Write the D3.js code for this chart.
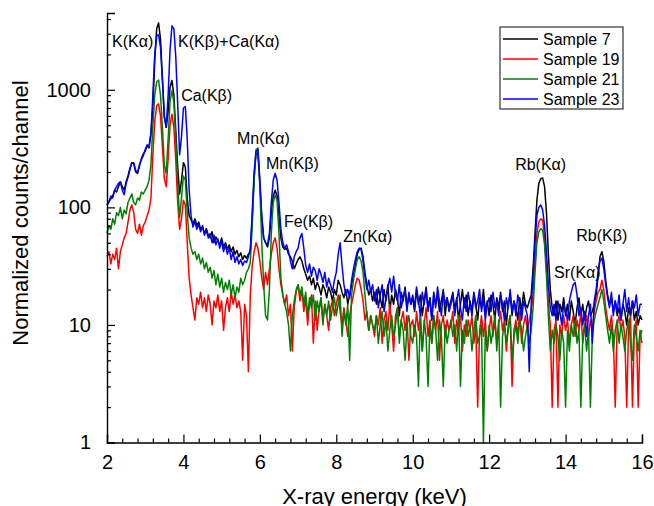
<!DOCTYPE html>
<html>
<head>
<meta charset="utf-8">
<script src="https://cdn.jsdelivr.net/npm/d3@7"></script>
<style>
  body { margin: 0; background: #fff; }
  svg { display: block; }
  text { font-family: "Liberation Sans", Arial, sans-serif; fill: #000; }
</style>
</head>
<body>
<svg width="654" height="506"></svg>
<script>
// channel grid: 2.00 .. 16.00 keV, 0.05 keV per channel
var energy = d3.range(281).map(function(i) { return +(2 + i * 0.05).toFixed(2); });

// Normalized counts per channel, one row per keV (2.00 .. 2.95, 3.00 .. 3.95, ...)
var sample7 = [
  105,112,118,125,140,135,150,165,150,140,165,185,215,240,235,200,195,225,260,285,
  300,335,320,420,700,1800,3300,3700,2700,1250,600,480,650,1050,1200,900,450,220,130,170,
  240,220,120,85,78,72,80,70,75,65,68,60,66,58,55,62,50,56,52,48,
  55,46,50,44,48,42,46,40,43,38,41,36,39,37,40,42,80,180,290,285,
  160,80,55,50,46,55,90,125,140,125,85,55,46,44,45,40,38,35,30,33,
  36,38,35,30,27,24,26,22,25,20,23,21,18,22,20,17,21,19,16,20,
  18,24,22,19,17,20,15,18,22,26,32,40,44,45,38,28,22,18,20,16,
  19,15,21,17,14,20,16,22,13,18,15,20,17,12,19,16,21,14,18,15,
  17,13,20,15,18,12,16,21,14,17,11,19,15,18,13,16,20,12,17,14,
  16,19,13,17,11,15,20,14,18,12,16,13,19,15,11,17,14,20,13,16,
  12,18,15,11,17,14,19,13,16,10,15,18,12,16,14,11,17,13,19,15,
  14,16,18,30,60,115,160,175,178,150,90,40,20,14,12,16,11,15,13,17,
  12,15,11,16,13,10,14,17,12,15,11,14,16,12,13,15,18,26,38,42,
  35,24,18,15,17,13,16,12,14,11,15,13,10,14,12,16,11,13,10,12,
  11
];
var sample19 = [
  38,42,33,40,36,45,30,42,48,55,60,75,95,105,90,65,60,72,58,70,
  75,85,95,120,280,540,730,760,600,330,175,150,260,500,620,480,250,110,65,80,
  115,105,50,25,18,14,11,17,15,19,14,17,13,18,15,10,16,14,18,13,
  16,9,14,17,13,19,15,18,14,16,13,5,15,12,4,18,32,42,50,45,
  35,25,20,28,22,30,40,50,55,45,30,22,18,15,18,12,15,6,14,19,
  22,16,20,13,17,10,15,18,7,16,9,14,17,11,15,12,9,14,16,12,
  15,18,13,10,14,11,8,12,15,18,22,25,24,20,16,11,13,9,12,10,
  8,12,10,14,7,11,13,9,15,10,6,12,14,8,11,13,9,12,5,10,
  11,8,13,9,12,6,10,14,8,11,7,12,9,13,5,10,12,8,11,9,
  10,13,7,11,9,12,6,10,8,11,9,12,7,10,2,9,12,8,11,6,
  9,12,8,11,7,10,13,9,11,6,10,12,3,9,11,8,13,7,10,12,
  9,11,13,18,35,60,75,80,78,55,30,15,10,2,9,11,2,10,8,12,
  9,11,7,10,12,8,11,9,13,7,10,12,8,11,9,13,16,19,20,24,
  20,14,11,9,12,8,2,10,12,9,11,8,2,10,12,2,9,11,2,8,
  9
];
var sample21 = [
  60,70,65,80,72,90,85,100,80,95,88,110,120,130,110,105,120,115,135,130,
  140,150,170,230,500,900,1170,1210,900,480,230,195,380,800,980,780,380,160,82,120,
  185,170,90,55,45,40,42,36,40,33,37,30,34,28,31,25,29,22,27,21,
  25,19,23,20,24,18,22,17,21,19,25,22,24,28,30,34,70,170,310,320,
  150,50,22,12,11,20,60,110,127,115,60,25,18,15,13,10,6,12,16,20,
  22,18,21,15,19,12,17,14,18,11,16,13,17,10,15,12,16,11,14,17,
  12,15,18,8,13,10,15,5,18,24,30,36,38,35,28,18,12,9,12,10,
  9,12,7,10,13,8,11,6,9,12,8,10,14,7,11,9,5,10,12,8,
  7,10,8,3,12,6,11,8,3,10,7,12,9,5,11,8,3,10,7,9,
  11,8,10,6,12,3,9,7,11,8,10,6,9,12,7,8,10,1,9,6,
  10,7,9,12,6,11,2,8,10,7,9,12,5,8,10,7,11,9,6,8,
  10,7,9,14,28,50,62,66,64,48,26,12,6,9,7,10,8,5,9,7,
  2,9,6,10,8,11,7,9,2,8,10,6,9,2,8,11,13,15,17,20,
  16,12,9,7,10,6,9,11,7,10,8,6,9,11,7,5,10,8,6,9,
  7
];
var sample23 = [
  105,110,125,120,140,150,160,165,140,128,160,180,210,240,240,205,200,230,255,275,
  310,340,330,430,900,2000,2850,2950,2300,1200,580,480,900,2200,3500,3300,1900,750,280,400,
  700,720,380,140,85,68,76,65,72,62,70,58,64,55,60,50,58,48,54,45,
  52,42,48,40,45,36,42,34,38,33,36,32,35,34,38,44,90,200,300,310,
  170,85,55,50,48,60,110,170,195,170,110,65,50,45,48,42,35,30,38,42,
  45,55,60,45,32,28,33,26,31,29,24,30,27,23,28,21,25,22,19,24,
  28,40,50,32,22,18,20,17,24,30,36,42,45,44,35,26,20,24,19,22,
  16,20,14,18,22,13,17,21,25,19,26,18,16,22,14,17,20,13,19,15,
  18,14,21,16,12,19,15,20,13,17,11,18,14,21,16,12,19,15,17,13,
  15,18,12,16,20,14,11,17,13,19,15,12,18,14,16,20,13,17,11,15,
  17,13,19,14,16,12,18,15,11,17,14,20,13,16,12,18,15,11,16,14,
  12,4,15,26,50,85,100,105,95,70,42,22,14,12,15,11,16,13,10,15,
  13,11,16,19,22,23,18,12,14,10,13,8,12,15,7,16,20,28,35,37,
  30,22,17,14,19,12,16,13,18,11,15,20,13,17,12,16,14,18,12,15,
  15
];

var seriesNames = ["Sample 7", "Sample 19", "Sample 21", "Sample 23"];
var seriesColors = ["#000000", "#ff0000", "#008000", "#0000ff"];
var seriesValues = [sample7, sample19, sample21, sample23];

var xTicks = [2, 4, 6, 8, 10, 12, 14, 16];
var yTicks = [1, 10, 100, 1000];

// peak labels: [text, energy where the label starts, counts at the label baseline]
var peakLabels = [
  ["K(K\u03b1)", 2.13, 2300],
  ["K(K\u03b2)+Ca(K\u03b1)", 3.86, 2300],
  ["Ca(K\u03b2)", 3.94, 800],
  ["Mn(K\u03b1)", 5.40, 345],
  ["Mn(K\u03b2)", 6.16, 212],
  ["Fe(K\u03b2)", 6.63, 68],
  ["Zn(K\u03b1)", 8.18, 51],
  ["Rb(K\u03b1)", 12.68, 207],
  ["Rb(K\u03b2)", 14.28, 52],
  ["Sr(K\u03b1)", 13.70, 25]
];

var svg = d3.select("svg");
var margin = { left: 107, right: 12, top: 13, bottom: 63.5 };
var width = 654, height = 506;

var x = d3.scaleLinear().domain([2, 16]).range([margin.left, width - margin.right]);
var y = d3.scaleLog().domain([1, 4500]).range([height - margin.bottom, margin.top]);

// spectra
var line = d3.line()
  .x(function(d) { return x(d[0]); })
  .y(function(d) { return y(Math.max(d[1], 1)); });

seriesValues.forEach(function(vals, k) {
  svg.append("path")
    .datum(energy.map(function(e, i) { return [e, vals[i]]; }))
    .attr("fill", "none")
    .attr("stroke", seriesColors[k])
    .attr("stroke-width", 1.5)
    .attr("stroke-linejoin", "round")
    .attr("d", line);
});

// axes
var y0 = height - margin.bottom;
var xMinor = d3.range(0, 36).map(function(i) { return +(2 + i * 0.4).toFixed(1); })
  .filter(function(v) { return v % 2 !== 0; });
svg.append("g")
  .attr("transform", "translate(0," + y0 + ")")
  .call(d3.axisBottom(x).tickValues(xMinor).tickSize(-4).tickFormat(""))
  .call(function(g) { g.select(".domain").remove(); });
var gx = svg.append("g")
  .attr("transform", "translate(0," + y0 + ")")
  .call(d3.axisBottom(x).tickValues(xTicks).tickSize(-8).tickPadding(16).tickFormat(d3.format("d")));
gx.selectAll("text").attr("font-size", 20).attr("font-family", "Liberation Sans, Arial, sans-serif").attr("dy", "0.5em");

var yMinor = [];
[1, 10, 100, 1000].forEach(function(p) {
  for (var m = 2; m <= 9; m++) if (p * m <= 4500) yMinor.push(p * m);
});
svg.append("g")
  .attr("transform", "translate(" + margin.left + ",0)")
  .call(d3.axisLeft(y).tickValues(yMinor).tickSize(-4).tickFormat(""))
  .call(function(g) { g.select(".domain").remove(); });
var gy = svg.append("g")
  .attr("transform", "translate(" + margin.left + ",0)")
  .call(d3.axisLeft(y).tickValues(yTicks).tickSize(-8).tickPadding(16).tickFormat(d3.format("d")));
gy.selectAll("text").attr("font-size", 20).attr("font-family", "Liberation Sans, Arial, sans-serif");

svg.selectAll(".domain").attr("stroke-width", 1.4);
svg.selectAll(".tick line").attr("stroke-width", 1.2);

// axis titles
svg.append("text")
  .attr("x", (x.range()[0] + x.range()[1]) / 2)
  .attr("y", 504)
  .attr("text-anchor", "middle")
  .attr("font-size", 22)
  .text("X-ray energy (keV)");

svg.append("text")
  .attr("transform", "translate(28,213) rotate(-90)")
  .attr("text-anchor", "middle")
  .attr("font-size", 22)
  .text("Normalized counts/channel");

// peak labels
svg.append("g").selectAll("text")
  .data(peakLabels)
  .enter().append("text")
  .attr("x", function(d) { return x(d[1]); })
  .attr("y", function(d) { return y(d[2]); })
  .attr("font-size", 16)
  .text(function(d) { return d[0]; });

// legend
var legend = svg.append("g").attr("transform", "translate(500,27)");
legend.append("rect")
  .attr("width", 123).attr("height", 82)
  .attr("fill", "#fff").attr("stroke", "#333").attr("stroke-width", 1.2);
seriesNames.forEach(function(name, k) {
  var cy = 12 + k * 20;
  legend.append("line")
    .attr("x1", 3).attr("x2", 38).attr("y1", cy).attr("y2", cy)
    .attr("stroke", seriesColors[k]).attr("stroke-width", 1.5);
  legend.append("text")
    .attr("x", 43).attr("y", cy + 6)
    .attr("font-size", 16)
    .text(name);
});
</script>
</body>
</html>
